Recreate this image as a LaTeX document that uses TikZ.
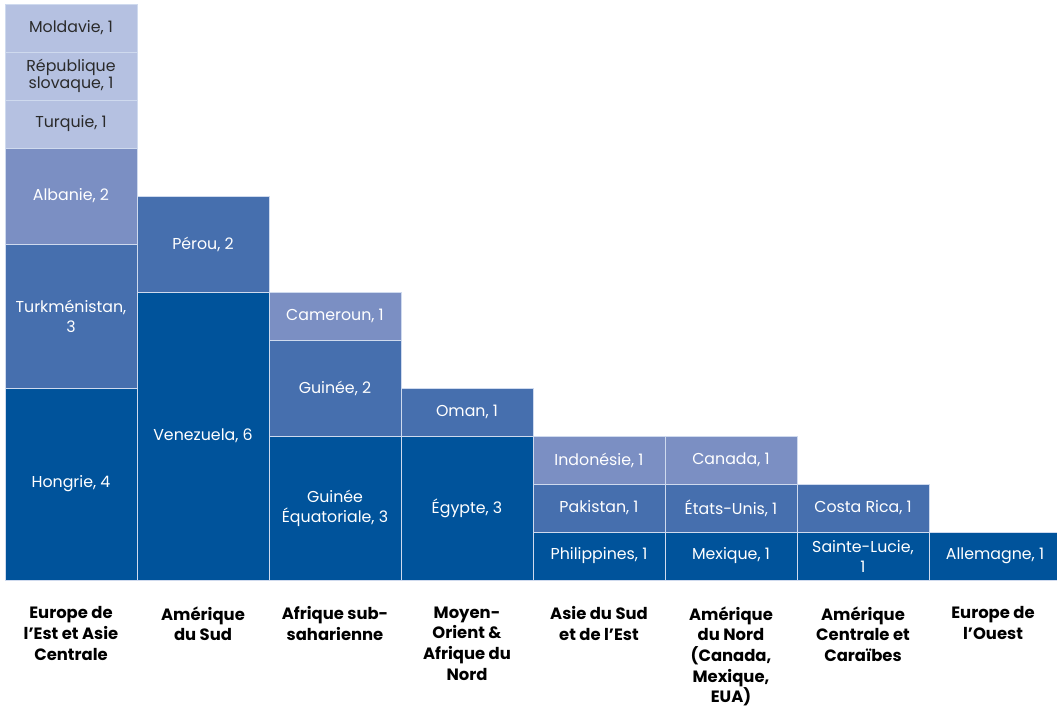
\documentclass[tikz,border=0pt]{standalone}
\usepackage{fontspec}
\setmainfont{Poppins}
\definecolor{cDark}{HTML}{00539B}
\definecolor{cMid}{HTML}{466FAE}
\definecolor{cLM}{HTML}{7B8FC3}
\definecolor{cLight}{HTML}{B5C1E1}
\definecolor{cellline}{HTML}{CFDAEE}
\definecolor{darktext}{HTML}{2A2A2A}
\begin{document}
\begin{tikzpicture}[x=1pt,y=-1pt,
  cell/.style={draw=cellline, line width=0.9pt, outer sep=0pt, minimum width=132pt, inner sep=0pt,
    anchor=south west, text=white, align=center, font=\fontsize{15.8}{20}\selectfont},
  u1/.style={minimum height=48pt},
  u2/.style={minimum height=96pt},
  u3/.style={minimum height=144pt},
  u4/.style={minimum height=192pt},
  u6/.style={minimum height=288pt},
  dk/.style={fill=cDark},
  md/.style={fill=cMid},
  lm/.style={fill=cLM},
  lt/.style={fill=cLight, text=darktext},
  region/.style={anchor=north, inner sep=0pt, align=center, text=black,
    font=\fontsize{16.4}{20.6}\selectfont\bfseries,
    execute at begin node={\rule{0pt}{13pt}}}
]
\useasboundingbox (0,0) rectangle (1057,712);
\clip (0,0) rectangle (1057,712);
\fill[white] (0,0) rectangle (1057,712);
\coordinate (b1) at (5,580);
\coordinate (b2) at (137,580);
\coordinate (b3) at (269,580);
\coordinate (b4) at (401,580);
\coordinate (b5) at (533,580);
\coordinate (b6) at (665,580);
\coordinate (b7) at (797,580);
\coordinate (b8) at (929,580);
% column 1
\node[cell,u4,dk] (hon) at (b1) {Hongrie, 4};
\node[cell,u3,md] (tur) at (hon.north west) {Turkménistan,\\3};
\node[cell,u2,lm] (alb) at (tur.north west) {Albanie, 2};
\node[cell,u1,lt] (tq) at (alb.north west) {Turquie, 1};
\node[cell,u1,lt,font=\fontsize{15.8}{15.5}\selectfont] (svk) at (tq.north west) {République\\slovaque, 1};
\node[cell,u1,lt] (mol) at (svk.north west) {Moldavie, 1};
% column 2
\node[cell,u6,dk] (ven) at (b2) {Venezuela, 6};
\node[cell,u2,md] (per) at (ven.north west) {Pérou, 2};
% column 3
\node[cell,u3,dk] (geq) at (b3) {Guinée\\Équatoriale, 3};
\node[cell,u2,md] (gui) at (geq.north west) {Guinée, 2};
\node[cell,u1,lm] (cam) at (gui.north west) {Cameroun, 1};
% column 4
\node[cell,u3,dk] (egy) at (b4) {Égypte, 3};
\node[cell,u1,md] (oma) at (egy.north west) {Oman, 1};
% column 5
\node[cell,u1,dk] (phi) at (b5) {Philippines, 1};
\node[cell,u1,md] (pak) at (phi.north west) {Pakistan, 1};
\node[cell,u1,lm] (ind) at (pak.north west) {Indonésie, 1};
% column 6
\node[cell,u1,dk] (mex) at (b6) {Mexique, 1};
\node[cell,u1,md] (usa) at (mex.north west) {États-Unis, 1};
\node[cell,u1,lm] (can) at (usa.north west) {Canada, 1};
% column 7
\node[cell,u1,dk] (slu) at (b7) {Sainte-Lucie,\\1};
\node[cell,u1,md] (cri) at (slu.north west) {Costa Rica, 1};
% column 8
\node[cell,u1,dk] (all) at (b8) {Allemagne, 1};
% region labels
\node[region] (r1) at (71,606.5) {Europe de\\l’Est et Asie\\Centrale};
\node[region] (r2) at (203,606.5) {Amérique\\du Sud};
\node[region] (r3) at (335,606.5) {Afrique sub-\\saharienne};
\node[region] (r4) at (467,606.5) {Moyen-\\Orient \&\\Afrique du\\Nord};
\node[region] (r5) at (599,606.5) {Asie du Sud\\et de l’Est};
\node[region] (r6) at (731,606.5) {Amérique\\du Nord\\(Canada,\\Mexique,\\EUA)};
\node[region] (r7) at (863,606.5) {Amérique\\Centrale et\\Caraïbes};
\node[region] (r8) at (993,606.5) {Europe de\\l’Ouest};
\end{tikzpicture}
\end{document}
